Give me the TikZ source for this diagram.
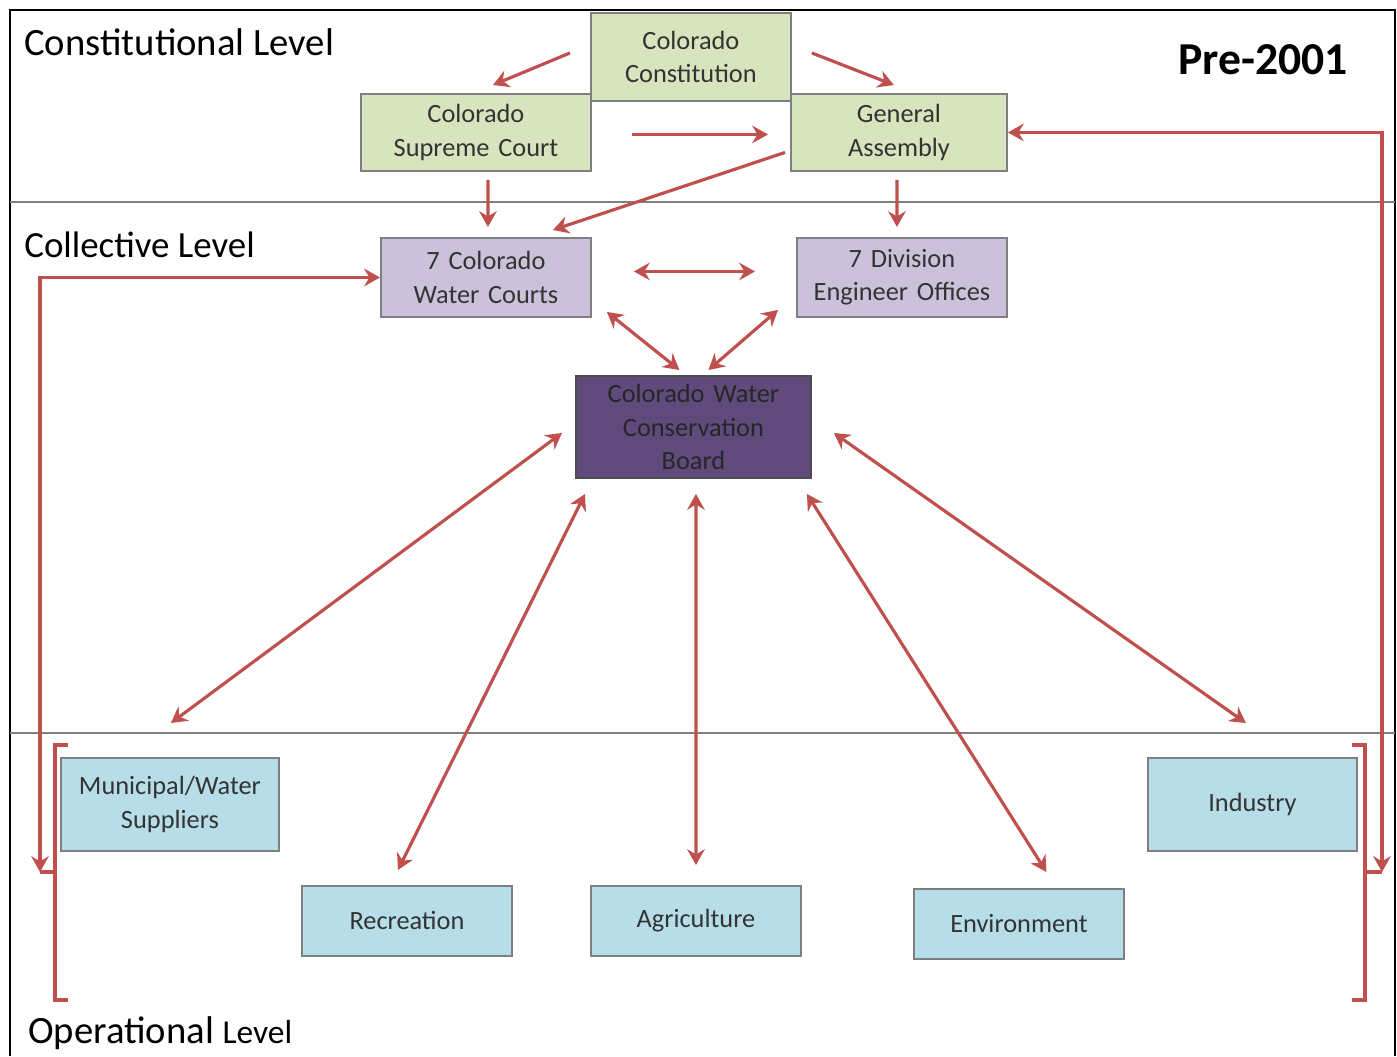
\documentclass[tikz,border=0pt]{standalone}
\usepackage{fontspec}
\setmainfont{Carlito}
\usepackage{tikz}
\usetikzlibrary{calc, arrows.meta}
\definecolor{vertpale}{HTML}{D7E4BD}
\definecolor{lavande}{HTML}{CCC1DA}
\definecolor{violet}{HTML}{604A7B}
\definecolor{bleupale}{HTML}{B7DEE8}
\definecolor{rouge}{HTML}{C0504D}
\definecolor{bord}{HTML}{7F7F7F}
\tikzstyle{boite} = [rectangle, draw=bord, line width=1.1pt, inner sep=2pt, minimum width=4.2cm, text width=3.8cm, align=center, text=black!80, font=\fontsize{15}{19}\selectfont]
\tikzstyle{fleche} = [-{Stealth[length=9pt, width=10pt, inset=3pt]}, draw=rouge, line width=1.8pt]
\tikzstyle{double} = [{Stealth[length=9pt, width=10pt, inset=3pt]}-{Stealth[length=9pt, width=10pt, inset=3pt]}]
\tikzstyle{crochet} = [draw=rouge, line width=1.8pt]
\tikzstyle{niveau} = [anchor=west, inner sep=0pt, font=\fontsize{22}{25}\selectfont]

\begin{document}
\begin{tikzpicture}[x=0.02cm, y=-0.02cm]
        \useasboundingbox (0,0) rectangle (1397,1056);

        % cadre et niveaux
        \draw[line width=1.2pt] (10,1056) -- (10,10) -- (1395,10) -- (1395,1056);
        \draw[bord, line width=1.2pt] (10,202) -- (1395,202);
        \draw[bord, line width=1.2pt] (10,733) -- (1395,733);

        \node (NC) [niveau] at (24,42) {Constitutional Level};
        \node (NK) [niveau, font=\fontsize{21}{24}\selectfont] at (24,245) {Collective Level};
        \node (NO) [niveau] at (28,1033) {Operational {\fontsize{19}{21}\selectfont Level}};
        \node (AN) [inner sep=0pt, font=\fontsize{26}{28}\selectfont\bfseries] at (1263,60) {Pre-2001};

        \node (CC) [boite, anchor=north west, fill=vertpale, minimum width=4cm, minimum height=1.76cm] at (590,12) {Colorado\\ Constitution};
        \node (CSC) [boite, anchor=north west, fill=vertpale, minimum width=4.6cm, minimum height=1.54cm] at (360,93) {Colorado\\ Supreme Court};
        \node (GA) [boite, anchor=north west, fill=vertpale, minimum width=4.32cm, minimum height=1.54cm] at (790,93) {General\\ Assembly};

        \node (WC) [boite, anchor=north west, fill=lavande, minimum height=1.58cm] at (380,237) {7 Colorado\\ Water Courts};
        \node (DEO) [boite, anchor=north west, fill=lavande, minimum height=1.58cm] at (796,237) {7 Division\\ Engineer Offices};
        \node (CWCB) [boite, anchor=north west, fill=violet, draw=black!70, text=black!85, minimum width=4.7cm, minimum height=2.04cm] at (575,375) {Colorado Water\\ Conservation\\ Board};

        \node (MUN) [boite, anchor=north west, fill=bleupale, minimum width=4.36cm, minimum height=1.86cm] at (60,757) {Municipal/Water\\ Suppliers};
        \node (REC) [boite, anchor=north west, fill=bleupale, minimum height=1.4cm] at (301,885) {Recreation};
        \node (AGR) [boite, anchor=north west, fill=bleupale, minimum height=1.4cm] at (590,885) {Agriculture};
        \node (ENV) [boite, anchor=north west, fill=bleupale, minimum height=1.4cm] at (913,888) {Environment};
        \node (IND) [boite, anchor=north west, fill=bleupale, minimum width=4.18cm, minimum height=1.86cm] at (1147,757) {Industry};

        % fleches
        \draw[fleche] ($(CC.west)+(-20,-4)$) -- ($(CSC.north)+(17,-8)$);
        \draw[fleche] ($(CC.east)+(20,-4)$) -- ($(GA.north)+(-5,-8)$);
        \draw[fleche] ($(CSC.east)+(40,2)$) -- ($(GA.west)+(-22,2)$);
        \draw[fleche] ($(GA.west)+(-5,20)$) -- ($(WC.north)+(67,-7)$);
        \draw[fleche] ($(CSC.south)+(12,8)$) -- ($(WC.north)+(2,-10)$);
        \draw[fleche] ($(GA.south)+(-2,8)$) -- ($(DEO.north)+(-5,-10)$);
        \draw[fleche, double] ($(WC.east)+(42,-6)$) -- ($(DEO.west)+(-41,-6)$);
        \draw[fleche, double] ($(WC.south east)+(15,-6)$) -- ($(CWCB.north)+(-14,-5)$);
        \draw[fleche, double] ($(DEO.south west)+(-18,-8)$) -- ($(CWCB.north)+(15,-5)$);

        \draw[fleche, double] ($(CWCB.west)+(-13,6)$) -- ($(MUN.north)+(1,-34)$);
        \draw[fleche, double] ($(CWCB.south west)+(10,15)$) -- ($(REC.north)+(-9,-15)$);
        \draw[fleche, double] ($(CWCB.south)+(2.5,15)$) -- ($(AGR.north)+(0,-20)$);
        \draw[fleche, double] ($(CWCB.south east)+(-5,15)$) -- ($(ENV.north)+(27.5,-16)$);
        \draw[fleche, double] ($(CWCB.east)+(22,6)$) -- ($(IND.north)+(-6.5,-34)$);

        % boucles et crochets
        \coordinate (LT) at (40,872);
        \coordinate (RT) at (1382,872);
        \draw[fleche, double] (LT) |- (WC);
        \draw[fleche, double] (RT) |- (GA);
        \draw[crochet] (68,745) -- (55,745) -- (55,1000) -- (68,1000);
        \draw[crochet] (55,872) -- (LT);
        \draw[crochet] (1352,745) -- (1365,745) -- (1365,1000) -- (1352,1000);
        \draw[crochet] (1365,872) -- (RT);

    \end{tikzpicture}
\end{document}
